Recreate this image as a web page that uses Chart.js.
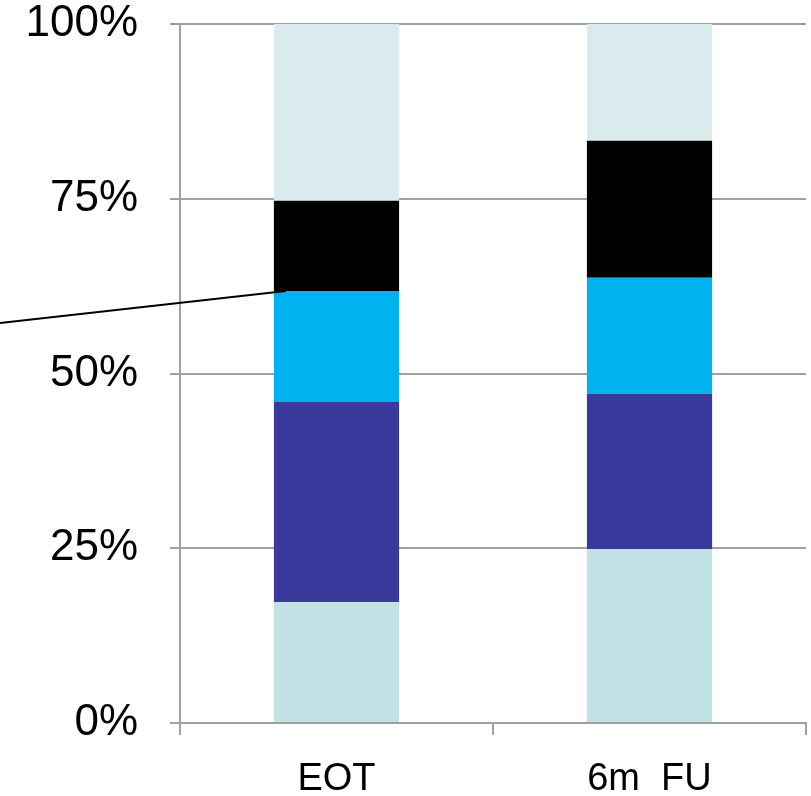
<!DOCTYPE html>
<html>
<head>
<meta charset="utf-8">
<script src="https://cdn.jsdelivr.net/npm/chart.js@4"></script>
<style>
  html, body { margin: 0; padding: 0; background: #fff; }
  #wrap { width: 811px; height: 796px; }
</style>
</head>
<body>
<div id="wrap"><canvas id="chart" width="811" height="796"></canvas></div>
<script>
const categories = ['EOT', '6m  FU'];
const bottomSeg = [17.3, 24.9];
const darkBlueSeg = [28.7, 22.2];
const cyanSeg = [15.8, 16.6];
const blackSeg = [12.9, 19.6];
const topSeg = [25.3, 16.7];
const yTicks = [0, 25, 50, 75, 100];

const gridColor = '#a0a0a0';

// leader line pointing at the EOT black/cyan boundary
const leaderLine = {
  id: 'leaderLine',
  afterDatasetsDraw(chart) {
    const { ctx, scales } = chart;
    const meta = chart.getDatasetMeta(2).data[0];
    const x1 = meta.x - meta.width / 2 + 12;
    const y1 = scales.y.getPixelForValue(bottomSeg[0] + darkBlueSeg[0] + cyanSeg[0]);
    ctx.save();
    ctx.strokeStyle = '#000';
    ctx.lineWidth = 2;
    ctx.beginPath();
    ctx.moveTo(0, y1 + 32);
    ctx.lineTo(x1, y1);
    ctx.stroke();
    ctx.restore();
  },
};

const mk = (data, color) => ({
  data,
  backgroundColor: color,
  borderWidth: 0,
  barPercentage: 0.8,
  categoryPercentage: 0.5,
});

new Chart(document.getElementById('chart'), {
  type: 'bar',
  data: {
    labels: categories,
    datasets: [
      mk(bottomSeg, '#c0e2e4'),
      mk(darkBlueSeg, '#3a3a9c'),
      mk(cyanSeg, '#00b2ef'),
      mk(blackSeg, '#000000'),
      mk(topSeg, '#daebee'),
    ],
  },
  options: {
    responsive: false,
    animation: false,
    events: [],
    layout: { padding: { left: 0, right: 5, top: 24, bottom: 0 } },
    plugins: { legend: { display: false }, tooltip: { enabled: false } },
    scales: {
      x: {
        stacked: true,
        afterFit: (s) => { s.height = 73; s.paddingLeft = 0; s.paddingRight = 0; },
        border: { color: gridColor, width: 2 },
        grid: { drawOnChartArea: false, drawTicks: true, tickLength: 12, color: gridColor, lineWidth: 2, offset: true },
        ticks: { color: '#000', padding: 22, font: { family: 'Liberation Sans', size: 38 } },
      },
      y: {
        stacked: true,
        min: 0,
        max: 100,
        afterFit: (s) => { s.width = 180; s.paddingTop = 0; s.paddingBottom = 0; },
        afterBuildTicks: (s) => { s.ticks = yTicks.map((v) => ({ value: v })); },
        border: { color: gridColor, width: 2 },
        grid: { color: gridColor, lineWidth: 2, tickLength: 10 },
        ticks: {
          color: '#000',
          padding: 32,
          font: { family: 'Liberation Sans', size: 44 },
          callback: (v) => v + '%',
        },
      },
    },
  },
  plugins: [leaderLine],
});
</script>
</body>
</html>
